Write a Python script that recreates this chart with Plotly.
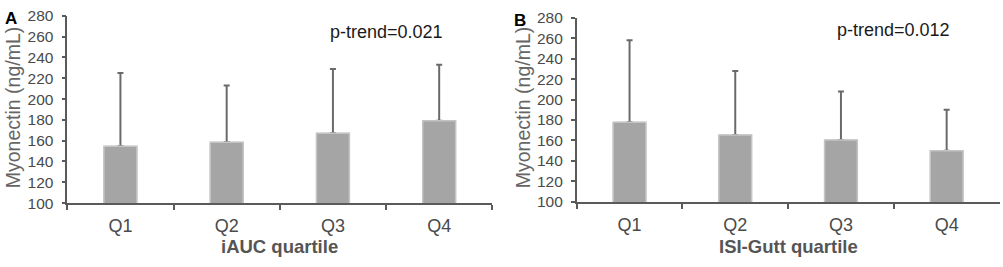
import plotly.graph_objects as go

categories = ["Q1", "Q2", "Q3", "Q4"]
iauc_mean = [154.6, 158.5, 167.2, 179.2]
iauc_upper = [225, 213, 229, 233]
isi_mean = [177.8, 165.3, 160.4, 150.0]
isi_upper = [258, 228, 208, 190]
y_ticks = list(range(100, 281, 20))

BAR = "#a5a5a5"
EDGE = "#c4c4c4"
ERR = "#6a6a6a"
AXIS = "#5a5a5a"
FONT = "Liberation Sans, Arial, sans-serif"

fig = go.Figure()

def add_panel(means, uppers, xa, ya):
    plus = [u - m for u, m in zip(uppers, means)]
    fig.add_trace(go.Bar(
        x=categories, y=means, xaxis=xa, yaxis=ya,
        marker=dict(color=BAR, line=dict(color=EDGE, width=1)),
        error_y=dict(type="data", symmetric=False, array=plus,
                     arrayminus=[0] * len(means), color=ERR,
                     thickness=2, width=3),
        showlegend=False, hoverinfo="skip"))
    # identical bars drawn on top to hide the lower whisker cap
    fig.add_trace(go.Bar(
        x=categories, y=means, xaxis=xa, yaxis=ya,
        marker=dict(color=BAR, line=dict(color=EDGE, width=1.5)),
        showlegend=False, hoverinfo="skip"))

add_panel(iauc_mean, iauc_upper, "x", "y")
add_panel(isi_mean, isi_upper, "x2", "y2")

xcommon = dict(showline=True, linecolor=AXIS, linewidth=1.5,
               ticks="outside", tickson="boundaries", ticklen=5,
               tickcolor=AXIS, tickwidth=1.5, showgrid=False,
               ticklabelstandoff=6,
               tickfont=dict(family=FONT, size=18, color="#4a4a4a"),
               fixedrange=True, zeroline=False)
ycommon = dict(showline=True, linecolor=AXIS, linewidth=1.5,
               ticks="outside", ticklen=4, tickcolor=AXIS, tickwidth=1.5,
               range=[100, 280], tickvals=y_ticks, showgrid=False,
               zeroline=False, ticklabelstandoff=5,
               tickfont=dict(family=FONT, size=15.5, color="#4a4a4a"),
               fixedrange=True)

W, H = 1003, 267
fig.update_layout(
    width=W, height=H, autosize=False,
    margin=dict(l=0, r=0, t=0, b=0),
    paper_bgcolor="white", plot_bgcolor="white",
    barmode="overlay", bargap=0.69,
    xaxis=dict(domain=[67.3 / W, 492.3 / W], anchor="y", **xcommon),
    yaxis=dict(domain=[(H - 207.3) / H, (H - 7.3) / H], anchor="x", **ycommon),
    xaxis2=dict(domain=[576.7 / W, 999.5 / W], anchor="y2", **xcommon),
    yaxis2=dict(domain=[(H - 206) / H, (H - 9.3) / H], anchor="x2", **ycommon),
)

ann = []
ann.append(dict(text="<b>A</b>", x=3 / W, y=(H - 10) / H, xref="paper", yref="paper",
                xanchor="left", yanchor="middle", showarrow=False,
                font=dict(family=FONT, size=17, color="black")))
ann.append(dict(text="<b>B</b>", x=512 / W, y=(H - 12) / H, xref="paper", yref="paper",
                xanchor="left", yanchor="middle", showarrow=False,
                font=dict(family=FONT, size=17, color="black")))
ann.append(dict(text="p-trend=0.021", x=2.5, y=264, xref="x", yref="y",
                showarrow=False, xanchor="center", yanchor="middle",
                font=dict(family=FONT, size=18, color="#1a1a1a")))
ann.append(dict(text="p-trend=0.012", x=2.5, y=268, xref="x2", yref="y2",
                showarrow=False, xanchor="center", yanchor="middle",
                font=dict(family=FONT, size=18, color="#1a1a1a")))
for xp, yc in [(13, 106), (523, 106)]:
    ann.append(dict(text="Myonectin (ng/mL)", x=xp / W, y=(H - yc) / H,
                    xref="paper", yref="paper", textangle=-90,
                    showarrow=False, xanchor="center", yanchor="middle",
                    font=dict(family=FONT, size=19.5, color="#666666")))
ann.append(dict(text="<b>iAUC quartile</b>", x=(67.3 + 492.3) / 2 / W, y=(H - 254) / H,
                xref="paper", yref="paper", showarrow=False,
                xanchor="center", yanchor="middle",
                font=dict(family=FONT, size=18.5, color="#555555")))
ann.append(dict(text="<b>ISI-Gutt quartile</b>", x=(576.7 + 999.5) / 2 / W, y=(H - 254) / H,
                xref="paper", yref="paper", showarrow=False,
                xanchor="center", yanchor="middle",
                font=dict(family=FONT, size=18.5, color="#555555")))
fig.update_layout(annotations=ann)

POST = ("var d=document.documentElement,b=document.body;"
        "d.style.margin='0';d.style.padding='0';d.style.overflow='hidden';"
        "b.style.margin='0';b.style.padding='0';b.style.overflow='hidden';")
fig.write_html("out.html", config={"displayModeBar": False, "responsive": False},
               post_script=POST)
